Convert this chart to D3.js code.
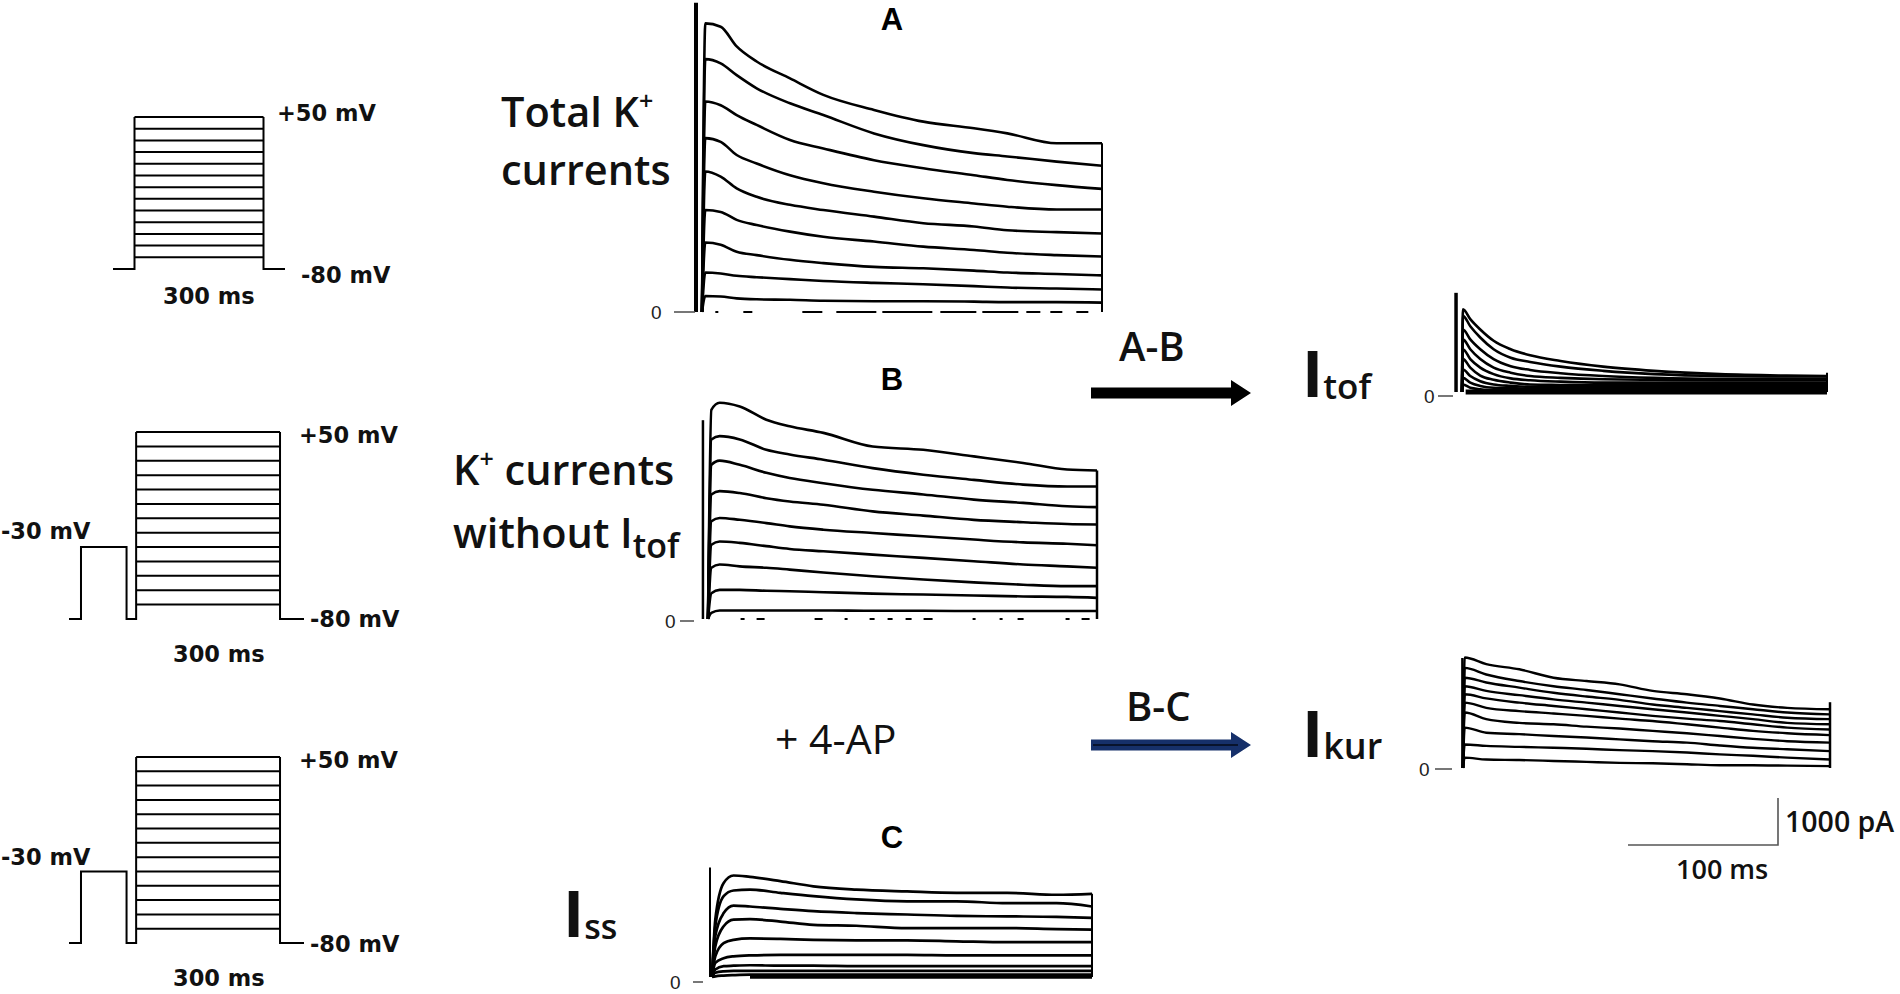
<!DOCTYPE html>
<html><head><meta charset="utf-8">
<script src="https://cdn.jsdelivr.net/npm/d3@7"></script>
<style>body{margin:0;background:#fff} svg{display:block}</style>
</head><body>
<svg id="fig" width="1900" height="994"></svg>
<script>
// ---------------- DATA ----------------
// Voltage protocols (mV, ms)
const stepLevels = [50, 40, 30, 20, 10, 0, -10, -20, -30, -40, -50, -60, -70];
const holdingMV = -80;
const prepulseMV = -30;
const prepulseWindow = [-115, -20];
const stepDuration = 300;

// Panel A: total K+ currents (pA vs ms)
const timesA = [0, 2.5, 14, 26, 41, 66, 91, 129, 166, 204, 229, 266, 300];
const tracesA = [
  [0, 6140, 6070, 5650, 5330, 4970, 4620, 4300, 4050, 3910, 3800, 3590, 3590],
  [0, 5380, 5290, 5040, 4760, 4440, 4190, 3800, 3550, 3380, 3310, 3200, 3110],
  [0, 4480, 4400, 4190, 3980, 3660, 3480, 3230, 3060, 2910, 2810, 2700, 2620],
  [0, 3700, 3620, 3340, 3160, 2910, 2740, 2560, 2420, 2310, 2240, 2180, 2180],
  [0, 2990, 2880, 2630, 2450, 2280, 2170, 2030, 1890, 1820, 1740, 1700, 1670],
  [0, 2170, 2130, 1960, 1850, 1710, 1600, 1500, 1390, 1320, 1260, 1210, 1180],
  [0, 1480, 1430, 1280, 1210, 1110, 1040, 960, 930, 880, 840, 810, 780],
  [0, 840, 820, 770, 740, 700, 660, 620, 590, 550, 520, 500, 480],
  [0, 340, 330, 290, 270, 260, 240, 230, 230, 220, 210, 210, 200]
];

// Panel B: K+ currents without Itof
const timesB = [0, 2.6, 9, 24.5, 45, 63, 89, 127, 166, 205, 243, 277, 300];
const tracesB = [
  [0, 4450, 4600, 4520, 4240, 4100, 3960, 3670, 3600, 3460, 3320, 3180, 3160],
  [0, 3820, 3890, 3820, 3600, 3500, 3390, 3210, 3070, 2960, 2860, 2820, 2820],
  [0, 3280, 3370, 3280, 3110, 3000, 2890, 2750, 2650, 2540, 2470, 2400, 2380],
  [0, 2650, 2720, 2680, 2570, 2500, 2430, 2290, 2200, 2110, 2060, 2020, 2010],
  [0, 2080, 2150, 2110, 2040, 1970, 1900, 1830, 1760, 1690, 1630, 1600, 1570],
  [0, 1580, 1650, 1620, 1550, 1490, 1440, 1370, 1300, 1230, 1160, 1120, 1090],
  [0, 1090, 1160, 1120, 1090, 1050, 990, 910, 840, 780, 730, 700, 700],
  [0, 550, 620, 620, 600, 590, 570, 540, 520, 500, 480, 470, 450],
  [0, 130, 180, 180, 180, 180, 180, 175, 175, 170, 170, 170, 170]
];

// Panel C: Iss (+ 4-AP)
const timesC = [0, 2.6, 9.2, 17, 30, 54, 80, 114, 154, 193, 233, 272, 300];
const tracesC = [
  [0, 1220, 2000, 2160, 2130, 2040, 1930, 1860, 1820, 1790, 1790, 1750, 1770],
  [0, 1080, 1720, 1840, 1860, 1790, 1720, 1650, 1610, 1610, 1570, 1570, 1500],
  [0, 870, 1360, 1520, 1500, 1450, 1400, 1360, 1330, 1300, 1290, 1280, 1260],
  [0, 650, 1080, 1220, 1230, 1180, 1110, 1090, 1040, 1040, 1040, 1020, 1010],
  [0, 440, 720, 790, 820, 810, 790, 780, 780, 760, 740, 740, 740],
  [0, 300, 400, 440, 460, 470, 470, 470, 470, 460, 460, 460, 460],
  [0, 160, 230, 240, 250, 240, 240, 230, 230, 230, 230, 230, 230],
  [0, 90, 120, 130, 130, 130, 130, 130, 130, 130, 130, 130, 130],
  [0, 15, 30, 40, 50, 50, 50, 50, 50, 50, 50, 50, 50]
];

// Itof = A - B
const timesTof = [0, 0.8, 6.8, 15, 26, 40, 56, 81, 116, 158, 212, 267, 300];
const tracesTof = [
  [0, 1760, 1550, 1330, 1090, 910, 780, 660, 540, 450, 380, 350, 340],
  [0, 1620, 1400, 1160, 910, 730, 640, 540, 450, 380, 340, 330, 330],
  [0, 1330, 1120, 910, 700, 550, 470, 400, 340, 300, 280, 280, 280],
  [0, 1120, 910, 700, 520, 410, 340, 300, 270, 260, 250, 250, 250],
  [0, 910, 700, 520, 380, 290, 250, 220, 200, 200, 200, 200, 200],
  [0, 700, 520, 350, 260, 200, 160, 150, 140, 140, 140, 140, 140],
  [0, 480, 340, 230, 160, 130, 110, 110, 110, 110, 110, 110, 110],
  [0, 300, 200, 130, 90, 80, 70, 70, 70, 70, 70, 70, 70],
  [0, 160, 90, 60, 40, 40, 40, 40, 40, 40, 40, 40, 40]
];

// Ikur = B - C
const timesKur = [0, 1.4, 19, 46, 74, 101, 128, 155, 183, 210, 237, 265, 300];
const tracesKur = [
  [0, 2350, 2210, 2100, 1920, 1850, 1780, 1640, 1570, 1480, 1350, 1280, 1250],
  [0, 2130, 1990, 1850, 1740, 1660, 1570, 1480, 1390, 1320, 1250, 1180, 1140],
  [0, 1920, 1820, 1710, 1600, 1520, 1450, 1350, 1280, 1210, 1140, 1070, 1040],
  [0, 1740, 1640, 1550, 1460, 1390, 1320, 1250, 1180, 1110, 1040, 960, 930],
  [0, 1570, 1480, 1390, 1320, 1250, 1180, 1110, 1050, 1000, 930, 860, 820],
  [0, 1390, 1280, 1210, 1160, 1110, 1050, 1000, 930, 860, 790, 740, 700],
  [0, 1180, 1040, 960, 930, 880, 840, 790, 740, 680, 620, 570, 540],
  [0, 860, 750, 720, 680, 650, 610, 570, 540, 480, 430, 400, 360],
  [0, 500, 470, 450, 430, 410, 380, 360, 330, 290, 260, 220, 180],
  [0, 220, 180, 170, 150, 130, 110, 100, 80, 60, 60, 50, 40]
];

// capacitive transient peak (pA) and its time (ms), and tail at end of step (pA)
const transientTime = {A: -4.5, B: -3.9, C: -1.6, Tof: -4.9, Kur: -0.5};
const transientPeak = {A: 6580, B: 4230, C: 2330, Tof: 2110, Kur: 2340};
const tailPeak = {A: 3590, B: 3160, C: 1770, Tof: 410, Kur: 1400};

// scale bar
const scaleBarPA = 1000;
const scaleBarMS = 100;

// ---------------- DRAW ----------------
const svg = d3.select("#fig");
const PX_PER_PA = 0.047;
const labelFont = "'Open Sans', 'DejaVu Sans', sans-serif";
const protoFont = "'DejaVu Sans', sans-serif";

function drawTraces(cfg) {
  const g = svg.append("g");
  const x = d3.scaleLinear().domain([0, stepDuration]).range([cfg.x0, cfg.x1]);
  const y = d3.scaleLinear().domain([0, 1000]).range([cfg.zeroY, cfg.zeroY - 1000 * PX_PER_PA]);
  const line = d3.line().x(d => x(d[0])).y(d => y(d[1])).curve(d3.curveMonotoneX);
  g.append("line")
    .attr("x1", x(cfg.tr)).attr("x2", x(cfg.tr))
    .attr("y1", y(0)).attr("y2", y(cfg.trPeak))
    .attr("stroke", "#000").attr("stroke-width", cfg.trW);
  if (cfg.zeroDash) {
    g.append("line")
      .attr("x1", x(cfg.zeroFrom)).attr("x2", x(stepDuration))
      .attr("y1", y(0)).attr("y2", y(0))
      .attr("stroke", "#000").attr("stroke-width", cfg.zeroW || 2)
      .attr("stroke-dasharray", cfg.zeroDash);
  }
  g.selectAll("path.tr").data(cfg.traces).join("path")
    .attr("class", "tr")
    .attr("d", vals => line(vals.map((v, i) => [cfg.times[i], v])))
    .attr("fill", "none").attr("stroke", "#000")
    .attr("stroke-width", cfg.w).attr("stroke-linejoin", "round");
  g.append("line")
    .attr("x1", x(stepDuration)).attr("x2", x(stepDuration))
    .attr("y1", y(0)).attr("y2", y(cfg.tail))
    .attr("stroke", "#000").attr("stroke-width", cfg.tailW || 2);
  g.append("line")
    .attr("x1", cfg.tick[0]).attr("x2", cfg.tick[1])
    .attr("y1", y(0) + cfg.tickDy).attr("y2", y(0) + cfg.tickDy)
    .attr("stroke", "#555").attr("stroke-width", 1.6);
  g.append("text").text("0")
    .attr("x", cfg.zeroLabelX).attr("y", y(0) + cfg.tickDy + 7)
    .attr("font-family", "'Liberation Sans', Arial, sans-serif")
    .attr("font-size", 19).attr("fill", "#222");
}

drawTraces({times: timesA, traces: tracesA, x0: 702, x1: 1102, zeroY: 312, w: 2.6,
  tr: transientTime.A, trPeak: transientPeak.A, trW: 4, tail: tailPeak.A, tailW: 2,
  zeroDash: "3,25,9,50,20,14,40,6,50,8,36,6,36,8,14,10,12,14,12,14,12,12,10,6",
  zeroFrom: 10, zeroW: 2.2,
  tick: [674, 695], tickDy: 0, zeroLabelX: 651});

drawTraces({times: timesB, traces: tracesB, x0: 708, x1: 1097, zeroY: 619, w: 2.6,
  tr: transientTime.B, trPeak: transientPeak.B, trW: 2.5, tail: tailPeak.B, tailW: 2.5,
  zeroDash: "0,30,4,12,8,50,8,22,3,22,5,13,5,13,6,12,9,40,3,24,3,15,6,12",
  zeroFrom: 2, zeroW: 2.2,
  tick: [680, 694], tickDy: 2, zeroLabelX: 665});

drawTraces({times: timesC, traces: tracesC, x0: 712, x1: 1092, zeroY: 977, w: 2.7,
  tr: transientTime.C, trPeak: transientPeak.C, trW: 2, tail: tailPeak.C, tailW: 2,
  zeroDash: "300,0", zeroFrom: 30, zeroW: 3.5,
  tick: [693, 703], tickDy: 5, zeroLabelX: 670});

drawTraces({times: timesTof, traces: tracesTof, x0: 1462, x1: 1827, zeroY: 392, w: 2.6,
  tr: transientTime.Tof, trPeak: transientPeak.Tof, trW: 3.5, tail: tailPeak.Tof, tailW: 2,
  zeroDash: "300,0", zeroFrom: 3, zeroW: 5,
  tick: [1438, 1453], tickDy: 4, zeroLabelX: 1424});

drawTraces({times: timesKur, traces: tracesKur, x0: 1463, x1: 1830, zeroY: 768, w: 2.4,
  tr: transientTime.Kur, trPeak: transientPeak.Kur, trW: 2.5, tail: tailPeak.Kur, tailW: 2.5,
  zeroDash: null,
  tick: [1435, 1452], tickDy: 1, zeroLabelX: 1419});

// ---------- voltage protocols ----------
function drawProtocol(cfg) {
  const g = svg.append("g");
  const x = d3.scaleLinear().domain(cfg.tDomain).range(cfg.xRange);
  const y = d3.scaleLinear().domain([holdingMV, d3.max(stepLevels)]).range(cfg.yRange);
  const top = d3.max(stepLevels);
  const pts = [[cfg.tDomain[0], holdingMV]];
  if (cfg.prepulse) {
    pts.push([prepulseWindow[0], holdingMV], [prepulseWindow[0], prepulseMV],
             [prepulseWindow[1], prepulseMV], [prepulseWindow[1], holdingMV]);
  }
  pts.push([0, holdingMV], [0, top]);
  const ln = d3.line().x(d => x(d[0])).y(d => y(d[1]));
  g.append("path").attr("d", ln(pts)).attr("fill", "none").attr("stroke", "#000").attr("stroke-width", 2);
  g.append("path").attr("d", ln([[stepDuration, top], [stepDuration, holdingMV], [cfg.tDomain[1], holdingMV]]))
    .attr("fill", "none").attr("stroke", "#000").attr("stroke-width", 2);
  g.selectAll("line.step").data(stepLevels).join("line").attr("class", "step")
    .attr("x1", x(0)).attr("x2", x(stepDuration))
    .attr("y1", d => y(d)).attr("y2", d => y(d))
    .attr("stroke", "#000").attr("stroke-width", 2);
  const txt = (s, xx, yy) => g.append("text").text(s).attr("x", xx).attr("y", yy)
    .attr("font-family", protoFont).attr("font-weight", "bold").attr("font-size", 22.5).attr("fill", "#111");
  txt("+50 mV", cfg.lab50[0], cfg.lab50[1]);
  txt("-80 mV", cfg.lab80[0], cfg.lab80[1]);
  txt("300 ms", cfg.labMs[0], cfg.labMs[1]);
  if (cfg.lab30) txt("-30 mV", cfg.lab30[0], cfg.lab30[1]);
}

drawProtocol({tDomain: [-50, 350], xRange: [113, 285], yRange: [269, 117], prepulse: false,
  lab50: [277, 121], lab80: [301, 283], labMs: [163, 304]});
drawProtocol({tDomain: [-140, 350], xRange: [69, 304], yRange: [619, 432], prepulse: true,
  lab50: [299, 443], lab80: [310, 627], labMs: [173, 662], lab30: [1, 539]});
drawProtocol({tDomain: [-140, 350], xRange: [69, 304], yRange: [943, 757], prepulse: true,
  lab50: [299, 768], lab80: [310, 952], labMs: [173, 986], lab30: [1, 865]});

// ---------- labels ----------
function label(parts, x, y, size, weight) {
  const t = svg.append("text").attr("x", x).attr("y", y)
    .attr("font-family", labelFont).attr("font-size", size)
    .attr("font-weight", weight || 600).attr("fill", "#111");
  parts.forEach(p => {
    const s = t.append("tspan").text(p.t);
    if (p.size) s.attr("font-size", p.size);
    if (p.dy) s.attr("dy", p.dy);
    if (p.w) s.attr("font-weight", p.w);
  });
  return t;
}
label([{t: "Total K"}, {t: "+", size: 25, dy: -17}], 501, 127, 41.5);
label([{t: "currents"}], 501, 185, 41.5);
label([{t: "K"}, {t: "+", size: 25, dy: -17}, {t: " currents", dy: 17}], 453, 485, 41.5);
label([{t: "without I"}, {t: "tof", size: 34, dy: 10}], 453, 548, 41.5);
label([{t: "+ 4-AP"}], 775, 754, 41, 400);
label([{t: "I", w: 700}, {t: "ss", size: 34, dy: 2}], 563, 937, 64);
label([{t: "I", w: 700}, {t: "tof", size: 35, dy: 2}], 1302, 397, 64);
label([{t: "I", w: 700}, {t: "kur", size: 36, dy: 2}], 1302, 757, 64);
label([{t: "A-B"}], 1119, 361, 40, 600);
label([{t: "B-C"}], 1126, 721, 40, 600);

svg.selectAll("text.panel").data([["A", 30], ["B", 390], ["C", 848]]).join("text")
  .attr("class", "panel").text(d => d[0])
  .attr("x", 892).attr("y", d => d[1]).attr("text-anchor", "middle")
  .attr("font-family", "'Liberation Sans', Arial, sans-serif")
  .attr("font-weight", "bold").attr("font-size", 31);

// ---------- arrows ----------
function arrow(x0, x1, yc, fill) {
  const sh = 5.5, hh = 13, hl = 20;
  const pts = [[x0, yc - sh], [x1 - hl, yc - sh], [x1 - hl, yc - hh], [x1, yc],
               [x1 - hl, yc + hh], [x1 - hl, yc + sh], [x0, yc + sh]];
  svg.append("polygon").attr("points", pts.map(p => p.join(",")).join(" ")).attr("fill", fill);
}
arrow(1091, 1251, 393, "#000");
arrow(1091, 1251, 745, "#16306a");
svg.append("line").attr("x1", 1093).attr("x2", 1238).attr("y1", 745).attr("y2", 745)
  .attr("stroke", "#050a1a").attr("stroke-width", 1.5);

// ---------- scale bar ----------
{
  const sx = d3.scaleLinear().domain([0, scaleBarMS]).range([1628, 1778]);
  const sy = d3.scaleLinear().domain([0, scaleBarPA]).range([845, 845 - scaleBarPA * PX_PER_PA]);
  svg.append("path")
    .attr("d", `M${sx(0)},${sy(0)}H${sx(scaleBarMS)}V${sy(scaleBarPA)}`)
    .attr("fill", "none").attr("stroke", "#555").attr("stroke-width", 1.6);
  svg.append("text").text("1000 pA").attr("x", 1785).attr("y", 832)
    .attr("font-family", labelFont).attr("font-weight", 600).attr("font-size", 28.5).attr("fill", "#111");
  svg.append("text").text("100 ms").attr("x", 1676).attr("y", 879)
    .attr("font-family", labelFont).attr("font-weight", 600).attr("font-size", 27).attr("fill", "#111");
}
</script>
</body></html>
